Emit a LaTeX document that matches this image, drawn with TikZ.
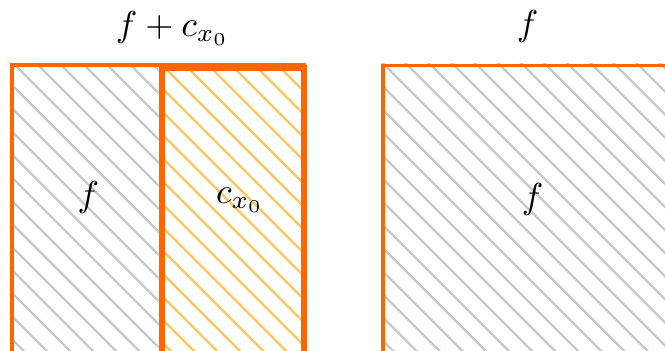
\documentclass[tikz,border=0pt]{standalone}
\usetikzlibrary{backgrounds}
\definecolor{lineorange}{RGB}{255,102,0}
\definecolor{hatchgray}{RGB}{200,200,200}
\definecolor{hatchorange}{RGB}{255,198,95}
\tikzset{
  box/.style={draw=lineorange, line width=3.5pt, rectangle, inner sep=0pt, anchor=north west},
  innerbox/.style={draw=lineorange, line width=6pt, rectangle, inner sep=0pt, anchor=north west},
  lbl/.style={anchor=base, inner sep=0pt, scale=3.6, transform shape},
  hatchline/.style={line width=2.3pt}
}
\begin{document}
\begin{tikzpicture}[x=1pt,y=-1pt]
\useasboundingbox (0,0) rectangle (665,351);
\clip (0,0) rectangle (665,351);
% boxes
\node[box, minimum width=292pt, minimum height=330pt] (leftbox) at (10,63) {};
\node[box, minimum width=330pt, minimum height=330pt] (rightbox) at (381.3,63.5) {};
\node[innerbox, minimum width=142.5pt, minimum height=286pt] (inner) at (158.5,65) {};
% hatching
\begin{scope}[on background layer]
  \begin{scope}
    \clip (leftbox.north west) rectangle (inner.south west |- leftbox.south west);
    \foreach \k in {-20,...,35}
      \draw[hatchline, hatchgray] ({-27+23.1*\k},0) -- ({373+23.1*\k},400);
  \end{scope}
  \begin{scope}
    \clip (rightbox.north west) rectangle (rightbox.south east);
    \foreach \k in {-20,...,35}
      \draw[hatchline, hatchgray] ({-27+23.1*\k},0) -- ({373+23.1*\k},400);
  \end{scope}
  \begin{scope}
    \clip (inner.north west) rectangle (inner.south east);
    \foreach \k in {-20,...,35}
      \draw[hatchline, hatchorange] ({97+23.1*\k},0) -- ({497+23.1*\k},400);
  \end{scope}
\end{scope}
% labels
\node[lbl] (ttl1) at (172.5,36) {$f + c_{x_0}$};
\node[lbl] (ttl2) at (527.5,35) {$f$};
\node[lbl] (lf) at (88.5,206) {$f$};
\node[lbl] (lc) at (240,203) {$c_{x_0}$};
\node[lbl] (rf) at (532.5,208) {$f$};
\end{tikzpicture}
\end{document}
